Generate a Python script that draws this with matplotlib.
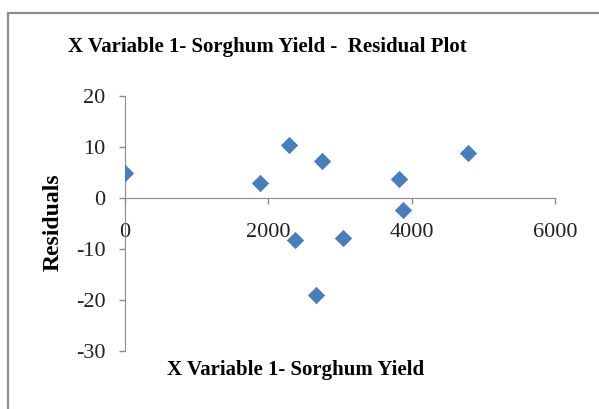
import matplotlib
matplotlib.use("Agg")
import matplotlib.pyplot as plt
from matplotlib.patches import Rectangle

# Data
sorghum_yield = [0, 1880, 2290, 2750, 2370, 3040, 2665, 4790, 3820, 3885]
residuals = [5.0, 3.0, 10.3, 7.3, -8.2, -7.9, -19.0, 8.9, 3.7, -2.4]

x_ticks = [0, 2000, 4000, 6000]
y_ticks = [-30, -20, -10, 0, 10, 20]

plt.rcParams['font.family'] = ['Liberation Serif', 'DejaVu Serif']
plt.rcParams['axes.unicode_minus'] = False

W, H = 599, 409
fig = plt.figure(figsize=(W / 100, H / 100), dpi=100)

# Chart area border (cropped at right and bottom like the screenshot)
fig.patches.append(Rectangle((8 / W, -0.05), 1.1, 1 - 13 / H + 0.05,
                             transform=fig.transFigure, fill=False,
                             edgecolor='#8c8c8c', linewidth=1.6))

ax = fig.add_axes([125 / W, 1 - 351 / H, (555 - 125) / W, (351 - 96) / H])

ax.scatter(sorghum_yield, residuals, marker='D', s=78, color='#4a7ebb',
           zorder=3, linewidths=0)

ax.set_xlim(0, 6000)
ax.set_ylim(-30, 20)
ax.set_xticks(x_ticks)
ax.set_yticks(y_ticks)

for s in ['top', 'right']:
    ax.spines[s].set_visible(False)
ax.spines['bottom'].set_position(('data', 0))
ax.spines['left'].set_color('#8c8c8c')
ax.spines['bottom'].set_color('#8c8c8c')
ax.tick_params(axis='both', colors='#8c8c8c', labelcolor='#222222',
               labelsize=16, length=4, width=1)
ax.tick_params(axis='x', pad=14)
ax.tick_params(axis='y', pad=10)

fig.text(53 / W, 1 - 222 / H, 'Residuals', fontsize=17, fontweight='bold',
         rotation=90, ha='center', va='center')
fig.text(296 / W, 1 - 370 / H, 'X Variable 1- Sorghum Yield', fontsize=15,
         fontweight='bold', ha='center', va='center')
fig.text(267 / W, 1 - 47 / H, 'X Variable 1- Sorghum Yield -  Residual Plot',
         fontsize=15, fontweight='bold', ha='center', va='center')

fig.savefig('out.png', dpi=100)
